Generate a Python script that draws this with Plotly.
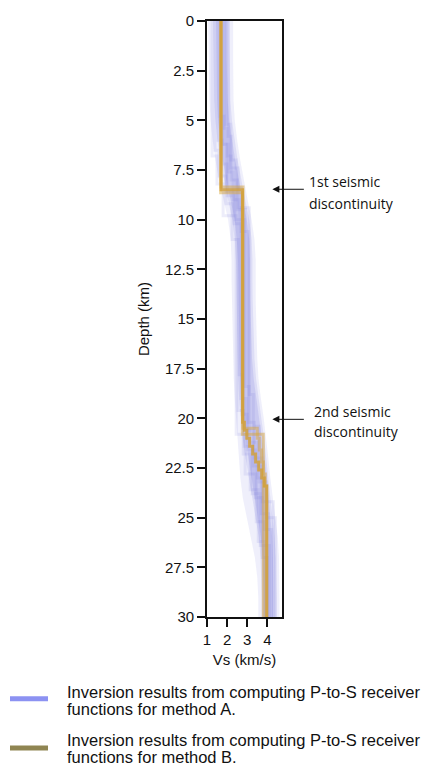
import plotly.graph_objects as go

# Method-A ensemble envelopes (km/s) sampled at 1-km depth nodes
depth_nodes = list(range(0, 31))
outer_lo = [1.05, 1.08, 1.10, 1.10, 1.12, 1.18, 1.28, 1.42, 1.60, 1.82,
            2.05, 2.18, 2.22, 2.22, 2.24, 2.25, 2.27, 2.30, 2.33, 2.38,
            2.45, 2.52, 2.58, 2.66, 2.78, 2.98, 3.20, 3.38, 3.50, 3.55, 3.55]
outer_hi = [2.30, 2.30, 2.30, 2.30, 2.32, 2.38, 2.50, 2.65, 2.83, 3.02,
            3.22, 3.36, 3.42, 3.42, 3.42, 3.44, 3.47, 3.50, 3.56, 3.68,
            3.82, 3.95, 4.05, 4.15, 4.25, 4.40, 4.52, 4.58, 4.60, 4.60, 4.60]
mid_lo = [1.30, 1.32, 1.33, 1.34, 1.36, 1.42, 1.52, 1.66, 1.84, 2.05,
          2.26, 2.38, 2.44, 2.46, 2.47, 2.48, 2.50, 2.52, 2.55, 2.60,
          2.68, 2.78, 2.92, 3.08, 3.25, 3.42, 3.58, 3.66, 3.70, 3.72, 3.72]
mid_hi = [2.12, 2.12, 2.12, 2.14, 2.16, 2.24, 2.38, 2.52, 2.70, 2.90,
          3.10, 3.22, 3.26, 3.26, 3.27, 3.29, 3.32, 3.36, 3.44, 3.56,
          3.70, 3.84, 3.96, 4.06, 4.16, 4.26, 4.36, 4.42, 4.45, 4.45, 4.45]
inner_lo = [1.45, 1.46, 1.48, 1.48, 1.50, 1.55, 1.65, 1.78, 1.96, 2.18,
            2.38, 2.48, 2.54, 2.56, 2.57, 2.58, 2.60, 2.62, 2.65, 2.70,
            2.80, 2.92, 3.06, 3.22, 3.38, 3.54, 3.68, 3.76, 3.80, 3.82, 3.82]
inner_hi = [1.98, 1.98, 1.98, 2.00, 2.03, 2.10, 2.25, 2.40, 2.58, 2.78,
            2.98, 3.10, 3.14, 3.14, 3.15, 3.16, 3.20, 3.24, 3.32, 3.44,
            3.58, 3.72, 3.86, 3.98, 4.08, 4.16, 4.24, 4.28, 4.30, 4.30, 4.30]

# Individual method-A step models: (layer tops in km, Vs in km/s)
a_models = [
    ([0, 6.0, 7.2, 8.8, 10.2, 19.0, 20.6, 22.4, 24.8],
     [1.55, 1.75, 2.00, 2.35, 2.70, 2.95, 3.30, 3.70, 4.05]),
    ([0, 5.4, 6.8, 8.0, 9.5, 18.4, 21.2, 23.0, 25.6],
     [1.85, 2.00, 2.20, 2.50, 2.90, 3.10, 3.50, 3.85, 4.20]),
    ([0, 6.5, 7.8, 9.2, 11.0, 19.6, 21.8, 23.6, 26.2],
     [1.40, 1.60, 1.95, 2.25, 2.55, 2.80, 3.15, 3.55, 3.90]),
    ([0, 5.8, 7.0, 8.4, 10.6, 20.2, 22.0, 24.2],
     [2.05, 2.20, 2.45, 2.70, 3.05, 3.35, 3.75, 4.30]),
    ([0, 4.8, 6.2, 7.6, 9.0, 17.8, 19.8, 21.6, 24.0, 27.0],
     [1.65, 1.85, 2.05, 2.30, 2.60, 2.75, 3.00, 3.40, 3.75, 4.00]),
    ([0, 6.8, 8.2, 9.8, 20.8, 22.8, 25.2],
     [1.25, 1.50, 1.80, 2.45, 2.90, 3.45, 3.85]),
    ([0, 5.2, 7.4, 9.4, 18.8, 20.4, 23.2, 25.0],
     [1.95, 2.15, 2.55, 3.10, 3.30, 3.60, 3.95, 4.40]),
    ([0, 6.2, 8.6, 10.0, 21.4, 23.8, 26.4],
     [1.75, 1.95, 2.40, 2.85, 3.25, 3.65, 4.10]),
]

# Method-B step profiles: layer top depths (km) and shear velocities (km/s)
b_main_tops = [0, 8.5, 20.2, 20.6, 21.0, 21.4, 21.8, 22.2, 22.6, 23.0, 23.4]
b_main_vs = [1.70, 2.77, 2.86, 2.98, 3.12, 3.27, 3.42, 3.57, 3.72, 3.85, 3.97]
b_alt1_tops = [0, 8.35, 20.5, 21.0, 21.6, 22.2, 22.8, 23.4]
b_alt1_vs = [1.70, 2.79, 3.50, 3.60, 3.70, 3.80, 3.90, 3.97]
b_alt2_tops = [0, 8.65, 20.8]
b_alt2_vs = [1.68, 2.76, 3.80]
max_depth = 30

x_ticks = [1, 2, 3, 4]
y_ticks = [0, 2.5, 5, 7.5, 10, 12.5, 15, 17.5, 20, 22.5, 25, 27.5, 30]
y_tick_text = ["0", "2.5", "5", "7.5", "10", "12.5", "15", "17.5", "20",
               "22.5", "25", "27.5", "30"]

legend_a = ["Inversion results from computing P-to-S receiver",
            "functions for method A."]
legend_b = ["Inversion results from computing P-to-S receiver",
            "functions for method B."]

W, H = 429, 780
L, R, T, B = 207, 282, 12, 617


def band_polygon(depths, lo, hi):
    xs = list(lo) + list(reversed(hi)) + [lo[0]]
    ys = list(depths) + list(reversed(depths)) + [depths[0]]
    return xs, ys


def step_profile(tops, vs, bottom):
    xs, ys = [], []
    bounds = tops[1:] + [bottom]
    for v, t0, t1 in zip(vs, tops, bounds):
        xs += [v, v]
        ys += [t0, t1]
    return xs, ys


def paper(px, py):
    return (px - L) / (R - L), (B - py) / (B - T)


fig = go.Figure()

for lo, hi, col in [(outer_lo, outer_hi, "rgba(120,120,225,0.12)"),
                    (mid_lo, mid_hi, "rgba(115,115,222,0.14)"),
                    (inner_lo, inner_hi, "rgba(110,110,220,0.17)")]:
    bx, by = band_polygon(depth_nodes, lo, hi)
    fig.add_trace(go.Scatter(x=bx, y=by, mode="lines", fill="toself",
                             fillcolor=col, line=dict(width=0),
                             hoverinfo="skip", showlegend=False))

for tops, vs in a_models:
    sx, sy = step_profile(tops, vs, max_depth)
    fig.add_trace(go.Scatter(x=sx, y=sy, mode="lines",
                             line=dict(color="rgba(105,105,215,0.12)", width=3),
                             hoverinfo="skip", showlegend=False))

for tops, vs, col, w in [(b_alt1_tops, b_alt1_vs, "rgba(215,165,60,0.50)", 3),
                         (b_alt2_tops, b_alt2_vs, "rgba(215,165,60,0.50)", 3),
                         (b_main_tops, b_main_vs, "rgba(210,160,55,0.82)", 3)]:
    sx, sy = step_profile(tops, vs, max_depth)
    fig.add_trace(go.Scatter(x=sx, y=sy, mode="lines",
                             line=dict(color=col, width=w),
                             hoverinfo="skip", showlegend=False))

axis_font = dict(family="Liberation Sans, Arial, sans-serif", size=15, color="#111")
note_font = dict(family="Open Sans, Noto Sans, sans-serif", size=14, color="#111")
leg_font = dict(family="Liberation Sans, Arial, sans-serif", size=16.5, color="#111")

annotations = []
# arrows pointing at the two discontinuities
for depth in [8.47, 20.05]:
    annotations.append(dict(x=4.25, y=depth, xref="x", yref="y", text="",
                            showarrow=True, ax=33, ay=0, arrowhead=2,
                            arrowsize=1.4, arrowwidth=1, arrowcolor="#111"))
for text, px, py in [("1st seismic", 309, 175), ("discontinuity", 309, 197),
                     ("2nd seismic", 314, 408), ("discontinuity", 314, 429)]:
    xp, yp = paper(px, py)
    annotations.append(dict(x=xp, y=yp, xref="paper", yref="paper", text=text,
                            showarrow=False, xanchor="left", yanchor="middle",
                            xshift=-2, font=note_font))
for lines, y0 in [(legend_a, 693), (legend_b, 742)]:
    for k, line in enumerate(lines):
        xp, yp = paper(67, y0 + 17 * k)
        annotations.append(dict(x=xp, y=yp, xref="paper", yref="paper", text=line,
                                showarrow=False, xanchor="left", yanchor="middle",
                                xshift=-2, font=leg_font))

shapes = []
for col, py in [("#8c92f2", 700), ("#8f8552", 750)]:
    x0, y0 = paper(10, py - 2.5)
    x1, y1 = paper(48, py + 2.5)
    shapes.append(dict(type="rect", xref="paper", yref="paper", x0=x0, x1=x1,
                       y0=y0, y1=y1, fillcolor=col, line=dict(width=0)))

fig.update_layout(
    width=W, height=H,
    margin=dict(l=L, r=W - R, t=T, b=H - B),
    paper_bgcolor="white", plot_bgcolor="white",
    annotations=annotations, shapes=shapes,
    showlegend=False,
)
fig.update_xaxes(range=[1, 4.73], tickvals=x_ticks, ticks="outside", ticklen=8,
                 tickwidth=1.5, tickcolor="#111", showline=True, linecolor="#111",
                 linewidth=1.8, mirror=True, showgrid=False, zeroline=False,
                 tickfont=axis_font, title=dict(text="Vs (km/s)", font=axis_font,
                                                standoff=8))
fig.update_yaxes(range=[30, 0], tickvals=y_ticks, ticktext=y_tick_text,
                 ticks="outside", ticklen=8, tickwidth=1.5, tickcolor="#111",
                 showline=True, linecolor="#111", linewidth=1.8, mirror=True,
                 showgrid=False, zeroline=False, tickfont=axis_font,
                 title=dict(text="Depth (km)", font=axis_font, standoff=12))

fig.write_html("out.html")
